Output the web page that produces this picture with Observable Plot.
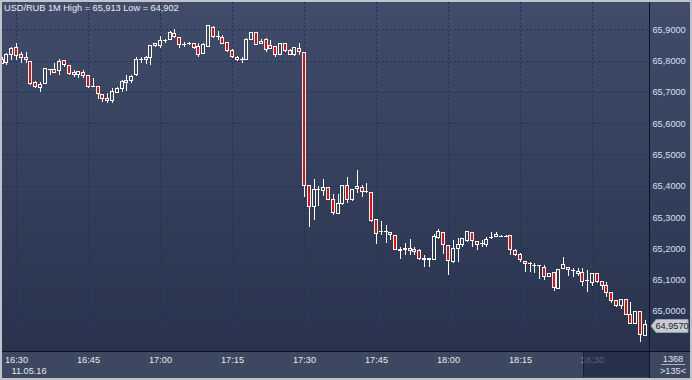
<!DOCTYPE html>
<html><head><meta charset="utf-8">
<script src="https://cdn.jsdelivr.net/npm/d3@7"></script>
<script src="https://cdn.jsdelivr.net/npm/@observablehq/plot@0.6"></script>
<style>
html,body{margin:0;padding:0;background:#3d4860;}
#chart svg{display:block;}
</style></head><body><div id="chart"></div>
<script>
const title = "USD/RUB 1M High = 65,913 Low = 64,902";
const dateLabel = "11.05.16";
const firstBar = "2016-05-11T16:27:00Z";
const open = [65.805,65.793,65.819,65.842,65.819,65.811,65.798,65.731,65.713,65.727,65.772,65.772,65.768,65.801,65.783,65.763,65.754,65.761,65.751,65.717,65.717,65.692,65.680,65.671,65.699,65.711,65.731,65.735,65.754,65.802,65.802,65.809,65.848,65.848,65.863,65.868,65.887,65.874,65.853,65.855,65.855,65.844,65.823,65.844,65.906,65.876,65.874,65.858,65.831,65.809,65.804,65.804,65.868,65.891,65.855,65.866,65.847,65.844,65.820,65.855,65.831,65.820,65.839,65.826,65.400,65.335,65.387,65.384,65.395,65.357,65.312,65.344,65.402,65.357,65.390,65.395,65.381,65.379,65.291,65.253,65.254,65.251,65.241,65.197,65.195,65.200,65.189,65.193,65.168,65.163,65.165,65.235,65.251,65.209,65.157,65.200,65.211,65.225,65.250,65.221,65.216,65.211,65.235,65.237,65.240,65.240,65.240,65.193,65.179,65.157,65.152,65.147,65.146,65.140,65.110,65.122,65.073,65.136,65.140,65.129,65.120,65.122,65.097,65.092,65.120,65.094,65.083,65.058,65.035,65.016,65.037,64.989,64.961,64.998,64.923];
const high = [65.811,65.824,65.844,65.855,65.827,65.828,65.800,65.735,65.733,65.777,65.773,65.793,65.804,65.802,65.784,65.770,65.766,65.770,65.752,65.743,65.718,65.693,65.696,65.711,65.717,65.738,65.754,65.754,65.811,65.811,65.816,65.850,65.856,65.880,65.868,65.895,65.901,65.876,65.858,65.860,65.856,65.855,65.855,65.913,65.909,65.895,65.882,65.859,65.836,65.815,65.811,65.871,65.890,65.892,65.869,65.871,65.866,65.845,65.856,65.856,65.836,65.844,65.857,65.827,65.401,65.421,65.399,65.421,65.396,65.373,65.373,65.403,65.429,65.390,65.450,65.403,65.410,65.380,65.292,65.287,65.275,65.252,65.242,65.203,65.216,65.229,65.205,65.197,65.179,65.169,65.246,65.261,65.252,65.210,65.227,65.232,65.233,65.254,65.251,65.222,65.227,65.237,65.253,65.253,65.242,65.242,65.241,65.197,65.184,65.158,65.157,65.154,65.147,65.147,65.121,65.123,65.134,65.173,65.141,65.136,65.136,65.136,65.131,65.122,65.121,65.095,65.094,65.059,65.036,65.038,65.038,65.030,65.000,64.999,64.971];
const low = [65.789,65.786,65.802,65.802,65.793,65.791,65.722,65.712,65.701,65.725,65.754,65.760,65.754,65.780,65.754,65.747,65.743,65.743,65.713,65.715,65.677,65.669,65.665,65.664,65.696,65.701,65.703,65.727,65.751,65.791,65.788,65.786,65.844,65.839,65.857,65.867,65.871,65.839,65.844,65.850,65.836,65.811,65.820,65.843,65.871,65.866,65.853,65.828,65.809,65.800,65.791,65.802,65.867,65.850,65.853,65.828,65.836,65.812,65.818,65.828,65.818,65.815,65.818,65.363,65.269,65.291,65.335,65.367,65.355,65.307,65.309,65.339,65.346,65.351,65.378,65.363,65.376,65.285,65.214,65.243,65.216,65.227,65.196,65.165,65.179,65.179,65.179,65.163,65.140,65.140,65.164,65.229,65.181,65.115,65.154,65.157,65.205,65.221,65.205,65.195,65.205,65.205,65.229,65.235,65.238,65.238,65.179,65.176,65.157,65.125,65.125,65.120,65.101,65.099,65.109,65.065,65.069,65.133,65.112,65.109,65.112,65.080,65.062,65.080,65.090,65.067,65.046,65.025,65.014,65.005,64.989,64.960,64.960,64.902,64.922];
const close = [65.792,65.821,65.840,65.817,65.811,65.802,65.727,65.717,65.724,65.774,65.771,65.761,65.796,65.786,65.759,65.754,65.765,65.751,65.717,65.718,65.695,65.678,65.672,65.701,65.711,65.733,65.738,65.749,65.804,65.803,65.809,65.848,65.855,65.863,65.864,65.891,65.876,65.853,65.852,65.856,65.843,65.820,65.852,65.911,65.876,65.877,65.855,65.832,65.812,65.804,65.805,65.868,65.889,65.853,65.860,65.836,65.839,65.820,65.855,65.832,65.821,65.841,65.828,65.400,65.335,65.387,65.388,65.395,65.357,65.314,65.344,65.402,65.357,65.389,65.397,65.381,65.382,65.288,65.246,65.254,65.253,65.243,65.197,65.192,65.200,65.192,65.195,65.168,65.163,65.168,65.237,65.253,65.211,65.161,65.200,65.211,65.232,65.253,65.225,65.211,65.217,65.229,65.236,65.243,65.240,65.240,65.195,65.179,65.163,65.152,65.153,65.147,65.145,65.110,65.120,65.076,65.133,65.147,65.131,65.128,65.127,65.094,65.096,65.120,65.094,65.083,65.058,65.035,65.019,65.037,64.990,64.961,64.998,64.926,64.957];
const yTicks = [65.0, 65.1, 65.2, 65.3, 65.4, 65.5, 65.6, 65.7, 65.8, 65.9];
const xTickLabels = ["16:30","16:45","17:00","17:15","17:30","17:45","18:00","18:15","18:30"];
const lastPrice = 64.957;
const barCountLabel = "1368";
const visibleLabel = ">135<";

const bars = open.map((o, i) => ({
  t: new Date(Date.parse(firstBar) + i * 60000),
  open: o, high: high[i], low: low[i], close: close[i]
}));
const xTicks = xTickLabels.map(s => new Date(`2016-05-11T${s}:00Z`));
const half = 18000;
const FONT = "'Liberation Sans', Arial, sans-serif";
const GRID = "#1b3262";

function backdrop(index, scales, values, dims) {
  const g = d3.create("svg:g");
  const defs = g.append("defs");
  const lg = defs.append("linearGradient").attr("id", "bg")
    .attr("gradientUnits", "userSpaceOnUse")
    .attr("x1", 0).attr("y1", 2).attr("x2", 0).attr("y2", 351);
  lg.append("stop").attr("offset", 0).attr("stop-color", "#404c69");
  lg.append("stop").attr("offset", 1).attr("stop-color", "#29334e");
  g.append("rect").attr("x", 0).attr("y", 0).attr("width", 692).attr("height", 380).attr("fill", "#3d4860");
  g.append("rect").attr("x", 2).attr("y", 2).attr("width", 688).attr("height", 349).attr("fill", "url(#bg)");
  return g.node();
}

function overlay(index, scales) {
  const g = d3.create("svg:g").attr("font-family", FONT).attr("font-size", 9.2).attr("text-anchor", "start");
  // dimmed scroll region on time axis
  g.append("rect").attr("x", 583).attr("y", 352).attr("width", 66).attr("height", 25)
    .attr("fill", "#1f2840").attr("fill-opacity", 0.72);
  g.append("line").attr("x1", 583.5).attr("x2", 583.5).attr("y1", 352).attr("y2", 377).attr("stroke", "#1a2133");
  // separators
  g.append("line").attr("x1", 649.5).attr("x2", 649.5).attr("y1", 0).attr("y2", 380).attr("stroke", "#0c1322");
  g.append("line").attr("x1", 0).attr("x2", 692).attr("y1", 351.5).attr("y2", 351.5).attr("stroke", "#0c1322");
  // outer border
  g.append("rect").attr("x", 1).attr("y", 1).attr("width", 690).attr("height", 378)
    .attr("fill", "none").attr("stroke", "#bfc3cb").attr("stroke-width", 2);
  // title
  g.append("text").attr("x", 4).attr("y", 10.7).attr("text-anchor", "start").attr("fill", "#e9edf3").text(title);
  // date label
  g.append("text").attr("x", scales.x(xTicks[0]) + 13).attr("y", 374).attr("text-anchor", "middle")
    .attr("fill", "#e4e8ef").text(dateLabel);
  // last price badge
  const yc = scales.y(lastPrice) + 1.5;
  g.append("path")
    .attr("d", `M651,${yc} L656,${yc - 6.5} L688,${yc - 6.5} L688,${yc + 6.5} L656,${yc + 6.5} Z`)
    .attr("fill", "#c9cdd3").attr("stroke", "#98a0ac");
  g.append("text").attr("x", 672).attr("y", yc).attr("dy", "0.34em").attr("text-anchor", "middle")
    .attr("fill", "#1b2433").text(lastPrice.toFixed(4).replace(".", ","));
  // bottom-right counters
  g.append("text").attr("x", 673).attr("y", 362).attr("text-anchor", "middle").attr("fill", "#dde2ea").text(barCountLabel);
  g.append("line").attr("x1", 661).attr("x2", 685).attr("y1", 364.5).attr("y2", 364.5).attr("stroke", "#aab2c0");
  g.append("text").attr("x", 673).attr("y", 374).attr("text-anchor", "middle").attr("fill", "#dde2ea").text(visibleLabel);
  return g.node();
}

const chart = Plot.plot({
  width: 692,
  height: 380,
  marginTop: 2,
  marginBottom: 29,
  marginLeft: 2,
  marginRight: 43,
  style: {background: "transparent", fontFamily: FONT, fontSize: "9.2px", color: "#e4e8ef"},
  x: {type: "utc", domain: [new Date("2016-05-11T16:27:05Z"), new Date("2016-05-11T18:41:52.5Z")]},
  y: {domain: [64.8722, 65.9872]},
  marks: [
    backdrop,
    Plot.ruleY(yTicks, {stroke: GRID, strokeDasharray: "2,2", shapeRendering: "crispEdges"}),
    Plot.ruleX(xTicks, {stroke: GRID, strokeDasharray: "2,2", shapeRendering: "crispEdges"}),
    Plot.ruleX(bars, {x: "t", y1: "low", y2: "high", stroke: "white", strokeWidth: 1, clip: "frame", shapeRendering: "crispEdges"}),
    Plot.rect(bars, {filter: d => d.close > d.open, x1: d => new Date(+d.t - half), x2: d => new Date(+d.t + half),
      y1: "open", y2: "close", fill: "url(#bg)", stroke: "white", strokeWidth: 1, clip: "frame", shapeRendering: "crispEdges"}),
    Plot.rect(bars, {filter: d => d.close < d.open, x1: d => new Date(+d.t - half), x2: d => new Date(+d.t + half),
      y1: "open", y2: "close", fill: "#ff0000", stroke: "white", strokeWidth: 1, clip: "frame", shapeRendering: "crispEdges"}),
    Plot.ruleY(bars, {filter: d => d.close === d.open, y: "close", x1: d => new Date(+d.t - half - 6000), x2: d => new Date(+d.t + half + 6000),
      stroke: "white", strokeWidth: 1, clip: "frame", shapeRendering: "crispEdges"}),
    Plot.axisY({anchor: "right", ticks: yTicks, tickFormat: d => d.toFixed(4).replace(".", ","), tickSize: 0, tickPadding: 3,
      label: null, color: "#d3e0f5", fontSize: 9.2}),
    Plot.axisX({anchor: "bottom", ticks: xTicks, tickFormat: d3.utcFormat("%H:%M"), tickSize: 0, tickPadding: 5,
      label: null, color: "#e4e8ef", fontSize: 9.2}),
    overlay
  ]
});
document.getElementById("chart").appendChild(chart);
</script>
</body></html>
